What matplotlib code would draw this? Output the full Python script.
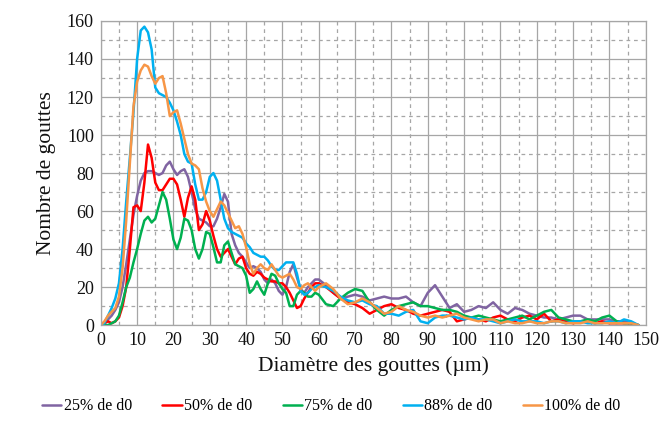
import numpy as np
import matplotlib
matplotlib.use("Agg")
from matplotlib import pyplot as plt
from matplotlib.ticker import MultipleLocator

plt.rcParams['font.family'] = ['Liberation Serif', 'DejaVu Serif']

# diameters (µm): every 1 µm up to 60, then every 2 µm
diam = list(range(0, 61)) + list(range(62, 149, 2))

d25 = [0, 1, 3, 5, 8, 12, 20, 32, 45, 58, 68, 76, 80, 81, 81, 80, 79, 80, 84, 86,
       82, 79, 81, 82, 78, 70, 61, 56, 55, 54, 52, 52, 56, 62, 69, 65, 48, 42, 38, 36,
       33, 30, 31, 30, 28, 24, 22, 24, 22, 18, 16, 20, 28, 32, 25, 19, 17, 20, 22, 24,
       24,
       21, 17, 14, 15, 16, 15, 13, 14, 15, 14, 14, 15, 12, 10, 17, 21, 15, 9, 11, 7,
       8, 10, 9, 12, 8, 6, 9, 8, 6, 5, 4, 4, 3, 4, 5, 5, 3, 3, 3, 3, 2, 2, 1, 0]
d50 = [0, 1, 2, 1, 2, 4, 10, 20, 40, 62, 63, 60, 75, 95, 88, 75, 71, 71, 74, 77,
       77, 74, 66, 57, 67, 73, 66, 50, 53, 60, 55, 47, 40, 36, 38, 40, 36, 32, 35, 36,
       30, 27, 26, 28, 27, 25, 24, 23, 23, 22, 22, 20, 17, 13, 9, 10, 14, 17, 20, 22,
       22,
       20, 17, 14, 12, 11, 9, 6, 8, 10, 11, 9, 8, 6, 5, 6, 7, 8, 7, 2, 3,
       4, 3, 2, 4, 5, 3, 2, 4, 5, 3, 6, 2, 3, 2, 1, 2, 2, 1, 2, 1, 1, 1, 1, 0]
d75 = [0, 0, 0, 1, 2, 5, 12, 20, 25, 33, 40, 48, 55, 57, 54, 56, 63, 70, 66, 56,
       45, 40, 46, 56, 55, 50, 40, 35, 40, 49, 48, 41, 33, 33, 42, 44, 38, 32, 31, 30,
       26, 17, 19, 23, 19, 16, 22, 27, 26, 22, 19, 17, 10, 10, 16, 18, 17, 15, 15, 17,
       16,
       11, 10, 14, 17, 19, 18, 12, 8, 5, 8, 10, 11, 12, 10, 10, 9, 8, 8, 7, 5,
       4, 5, 4, 3, 2, 3, 4, 5, 3, 5, 7, 8, 4, 3, 2, 2, 3, 2, 4, 5, 2, 1, 1, 0]
d88 = [0, 1, 5, 9, 14, 22, 40, 65, 88, 112, 140, 155, 157, 154, 145, 125, 122, 121, 120, 117,
       113, 107, 100, 90, 86, 85, 74, 66, 66, 70, 78, 80, 76, 66, 56, 51, 49, 48, 47, 46,
       43, 41, 38, 37, 36, 36, 34, 31, 29, 29, 31, 33, 33, 33, 27, 18, 16, 17, 19, 20,
       21,
       20, 18, 15, 13, 12, 13, 11, 10, 6, 6, 5, 7, 8, 2, 1, 4, 5, 5, 4, 3,
       4, 3, 3, 2, 1, 2, 3, 2, 2, 2, 1, 2, 2, 1, 2, 2, 1, 1, 1, 2, 1, 3, 2, 0]
d100 = [0, 2, 5, 7, 9, 15, 30, 55, 85, 115, 128, 134, 137, 136, 131, 127, 130, 131, 122, 110,
        112, 113, 106, 98, 90, 85, 84, 82, 72, 65, 60, 57, 61, 65, 63, 59, 55, 51, 52, 48,
        41, 32, 27, 30, 32, 30, 29, 32, 29, 26, 25, 26, 27, 24, 20, 19, 21, 22, 20, 18,
        20,
        22, 19, 14, 11, 12, 14, 12, 9, 6, 7, 10, 8, 7, 5, 4, 5, 4, 5, 6, 4,
        3, 2, 3, 3, 1, 2, 1, 1, 2, 1, 1, 2, 2, 1, 1, 1, 2, 1, 1, 1, 1, 1, 1, 0]

series = [("25% de d0", d25, "#8064A2"),
          ("50% de d0", d50, "#FF0000"),
          ("75% de d0", d75, "#00B050"),
          ("88% de d0", d88, "#00B0F0"),
          ("100% de d0", d100, "#F79646")]

fig = plt.figure(figsize=(6.63, 4.37), dpi=100)
ax = fig.add_axes([0.152, 0.256, 0.822, 0.696])

for label, vals, col in series:
    ax.plot(diam, vals, color=col, lw=1.8, label=label,
            solid_joinstyle='round', solid_capstyle='round')

ax.set_xlim(0, 150)
ax.set_ylim(0, 160)
ax.xaxis.set_major_locator(MultipleLocator(10))
ax.xaxis.set_minor_locator(MultipleLocator(5))
ax.yaxis.set_major_locator(MultipleLocator(20))
ax.yaxis.set_minor_locator(MultipleLocator(10))
ax.grid(which='major', color='#A6A6A6', lw=0.9, ls='-')
ax.grid(which='minor', color='#A6A6A6', lw=0.9, ls=(0, (3, 3)))
ax.set_axisbelow(True)
for s in ax.spines.values():
    s.set_color('#A6A6A6')
    s.set_linewidth(0.9)
ax.tick_params(which='both', length=0, labelsize=13, colors='#111111', pad=5)

ax.set_xlabel("Diamètre des gouttes (µm)", fontsize=15.5, color='#111111', labelpad=5)
ax.set_ylabel("Nombre de gouttes", fontsize=15.5, color='#111111', labelpad=8)

fig.legend(loc='center', bbox_to_anchor=(0.5, 0.07), ncol=5, frameon=False,
           fontsize=11.5, handlelength=1.2, handletextpad=0.15, columnspacing=1.9)

fig.savefig("out.png", dpi=100)
